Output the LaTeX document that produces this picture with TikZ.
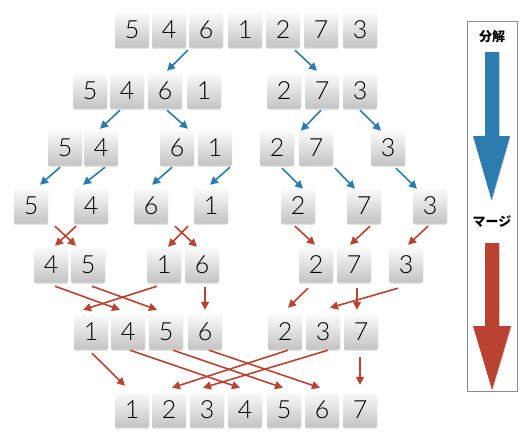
\documentclass[tikz,border=0pt]{standalone}
\usepackage{fontspec}
\setmainfont{Liberation Sans}
\newfontfamily\digitfont{Lato Light}
\newfontfamily\jpfont{Noto Sans CJK JP}
\usetikzlibrary{arrows.meta,shadows,calc}
\definecolor{blu}{RGB}{44,124,175}
\definecolor{rd}{RGB}{185,66,48}
\definecolor{boxtop}{RGB}{250,250,250}
\definecolor{boxmid}{RGB}{232,232,232}
\definecolor{boxbot}{RGB}{196,196,196}
\definecolor{frame}{RGB}{138,138,143}
\tikzset{
  numbox/.style={rounded corners=1.5pt, minimum width=34pt, minimum height=34pt,
    inner sep=0pt, top color=boxtop, middle color=boxmid, bottom color=boxbot,
    drop shadow={opacity=0.35, shadow xshift=0pt, shadow yshift=-1.5pt},
    text=black, font=\digitfont\fontsize{25}{28}\selectfont},
  barrow/.style={blu, line width=1.6pt, -{Triangle[length=8pt,width=8pt]}},
  rarrow/.style={rd, line width=1.6pt, -{Triangle[length=8pt,width=8pt]}},
  label/.style={font=\jpfont\bfseries\fontsize{13}{15}\selectfont, inner sep=0pt},
  bigarrow/.style={draw=none, drop shadow={opacity=0.3, shadow xshift=0.8pt, shadow yshift=-1pt}}
}
\begin{document}
\begin{tikzpicture}[x=1pt,y=-1pt]
\useasboundingbox (0,0) rectangle (529,442);
% row 1
\foreach \n/\x/\t in {1/132/5,2/169/4,3/206/6,4/245/1,5/283/2,6/321/7,7/360/3}
  \node[numbox] (t\n) at (\x,30) {\t};
% row 2
\foreach \n/\x/\t in {1/90/5,2/127/4,3/165/6,4/204/1,5/284/2,6/322/7,7/360/3}
  \node[numbox] (a\n) at (\x,91) {\t};
% row 3
\foreach \n/\x/\t in {1/65/5,2/101/4,3/177/6,4/215/1,5/277/2,6/316/7,7/388/3}
  \node[numbox] (b\n) at (\x,148) {\t};
% row 4
\foreach \n/\x/\t in {1/31/5,2/91/4,3/151/6,4/211/1,5/298/2,6/364/7,7/430/3}
  \node[numbox] (c\n) at (\x,206) {\t};
% row 5
\foreach \n/\x/\t in {1/51/4,2/88/5,3/164/1,4/202/6,5/316/2,6/354/7,7/406/3}
  \node[numbox] (d\n) at (\x,265) {\t};
% row 6
\foreach \n/\x/\t in {1/91/1,2/128/4,3/166/5,4/205/6,5/285/2,6/323/3,7/361/7}
  \node[numbox] (e\n) at (\x,332) {\t};
% row 7
\foreach \n/\x/\t in {1/132/1,2/169/2,3/207/3,4/245/4,5/284/5,6/322/6,7/360/7}
  \node[numbox] (f\n) at (\x,410) {\t};

% split arrows (blue)
\draw[barrow] ($(t3.south west)+(-1,3)$) -- ($(a3.north)+(2,-3)$);
\draw[barrow] ($(t5.south)+(12,3)$) -- ($(a6.north)+(-5,-3)$);
\draw[barrow] ($(a2.south)+(-7,2)$) -- ($(b2.north)+(-1,-2)$);
\draw[barrow] ($(a3.south)+(2,2)$) -- ($(b3.north)+(11,-2)$);
\draw[barrow] ($(a6.south)+(-1,2)$) -- ($(b6.north west)+(2,0)$);
\draw[barrow] ($(a7.south)+(0,2)$) -- ($(b7.north)+(-7,0)$);
\draw[barrow] ($(b1.south)+(-5,2)$) -- ($(c1.north)+(9,-4)$);
\draw[barrow] ($(b2.south)+(4,2)$) -- ($(c2.north)+(-8,-4)$);
\draw[barrow] ($(b3.south)+(-5,2)$) -- ($(c3.north)+(1,-4)$);
\draw[barrow] ($(b4.south)+(15,2)$) -- ($(c4.north)+(-1,-4)$);
\draw[barrow] ($(b5.south)+(5,3)$) -- ($(c5.north)+(5,0)$);
\draw[barrow] ($(b6.south)+(19,3)$) -- ($(c6.north)+(-9,0)$);
\draw[barrow] ($(b7.south)+(8,3)$) -- ($(c7.north)+(-13,0)$);

% merge arrows (red)
\draw[rarrow] ($(c1.south)+(24,3)$) -- ($(d2.north)+(-12,-2)$);
\draw[rarrow] ($(c2.south)+(-15,3)$) -- ($(d1.north)+(4,-2)$);
\draw[rarrow] ($(c3.south)+(24,3)$) -- ($(d4.north)+(-5,-1)$);
\draw[rarrow] ($(c4.south)+(-23,3)$) -- ($(d3.north)+(4,-1)$);
\draw[rarrow] ($(c5.south)+(-3,3)$) -- ($(d5.north)+(-1,-3)$);
\draw[rarrow] ($(c6.south)+(6,3)$) -- ($(d6.north)+(-4,-3)$);
\draw[rarrow] ($(c7.south)+(-2,3)$) -- ($(d7.north)+(2,-3)$);
\draw[rarrow] ($(d1.south)+(4,4)$) -- ($(e2.north)+(-8,-5)$);
\draw[rarrow] ($(d2.south)+(4,4)$) -- ($(e3.north)+(-9,-5)$);
\draw[rarrow] ($(d3.south)+(-7,4)$) -- ($(e1.north)+(-8,-5)$);
\draw[rarrow] ($(d4.south)+(3,5)$) -- ($(e4.north)+(0,-5)$);
\draw[rarrow] ($(d5.south)+(-8,6)$) -- ($(e5.north)+(3,-7)$);
\draw[rarrow] ($(d7.south)+(-8,6)$) -- ($(e6.north)+(7,-7)$);
\draw[rarrow] ($(d6.south)+(3,6)$) -- ($(e7.north)+(-4,-5)$);
\draw[rarrow] ($(e1.south)+(1,4)$) -- ($(f1.north)+(-7,-7)$);
\draw[rarrow] ($(e2.south)+(2,1)$) -- ($(f4.north)+(-5,-5)$);
\draw[rarrow] ($(e3.south)+(7,1)$) -- ($(f5.north)+(-1,-5)$);
\draw[rarrow] ($(e4.south)+(4,1)$) -- ($(f6.north)+(-2,-5)$);
\draw[rarrow] ($(e5.south)+(3,1)$) -- ($(f2.north)+(3,-5)$);
\draw[rarrow] ($(e6.south)+(5,1)$) -- ($(f3.north)+(-4,-5)$);
\draw[rarrow] ($(e7.south)+(-1,8)$) -- ($(f7.north)+(0,-8)$);

% legend panel
\node[draw=frame, line width=0.9pt, minimum width=50pt, minimum height=370pt, inner sep=0pt] (panel) at (492,206) {};
\node[label] (lsplit) at (492,37) {分解};
\node[label] (lmerge) at (492,222) {マージ};
\fill[blu, bigarrow] (485,52) -- (499,52) -- (499,136) -- (510,136) -- (491.5,200) -- (473,136) -- (485,136) -- cycle;
\fill[rd, bigarrow] (485,243) -- (499,243) -- (499,326) -- (511,326) -- (492,390) -- (473,326) -- (485,326) -- cycle;
\end{tikzpicture}
\end{document}
